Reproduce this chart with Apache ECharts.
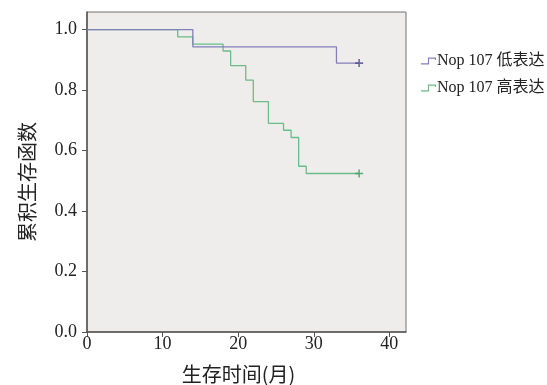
<!DOCTYPE html>
<html><head><meta charset="utf-8">
<script src="https://cdn.jsdelivr.net/npm/echarts@6/dist/echarts.min.js"></script>
<style>html,body{margin:0;padding:0;background:#fff}#c{width:547px;height:385px}</style>
</head><body><div id="c"></div>
<script>
// Data
const seriesNames = ['Nop 107 低表达', 'Nop 107 高表达'];
const lowTimes = [0, 14, 33, 36];
const lowSurv = [1.0, 0.943, 0.889, 0.889];
const highTimes = [0, 12, 14, 18, 19, 21, 22, 24, 26, 27, 28, 29, 36];
const highSurv = [1.0, 0.976, 0.952, 0.929, 0.881, 0.833, 0.762, 0.690, 0.667, 0.643, 0.548, 0.524, 0.524];
const lowCensor = [[36, 0.889]];
const highCensor = [[36, 0.524]];
const xTicks = [0, 10, 20, 30, 40];
const yTicks = [0, 0.2, 0.4, 0.6, 0.8, 1.0];
const xLabel = '生存时间(月)';
const yLabel = '累积生存函数';

const zip = (a, b) => a.map((v, i) => [v, b[i]]);
const serif = '"Liberation Serif","Times New Roman","Noto Sans CJK SC",serif';
const cjk = '"Noto Sans CJK SC",sans-serif';
const lowColor = '#8280b9', highColor = '#68bd88';
const plus = 'path://M4,0h2v4h4v2h-4v4h-2v-4h-4v-2h4z';
const stepIcon = 'path://M0,5H6V0H13V2.2H12V1H7V6H0Z';

const chart = echarts.init(document.getElementById('c'), null, {renderer: 'canvas'});
chart.setOption({
  animation: false,
  backgroundColor: '#fff',
  grid: {left: 87, right: 141, top: 12, bottom: 53, outerBoundsMode: 'none', containLabel: false,
         show: true, backgroundColor: '#efedec', borderColor: '#707070', borderWidth: 1},
  legend: {
    orient: 'vertical', left: 416, top: 48, itemGap: 11, itemWidth: 15, itemHeight: 7,
    data: [{name: seriesNames[0], icon: stepIcon, itemStyle: {color: lowColor}},
           {name: seriesNames[1], icon: stepIcon, itemStyle: {color: highColor}}],
    textStyle: {fontFamily: serif, fontSize: 16, color: '#222', padding: [0, 0, 0, -4]}
  },
  xAxis: {
    type: 'value', min: 0, max: 42.2,
    name: xLabel, nameLocation: 'middle', nameGap: 32,
    nameTextStyle: {fontFamily: cjk, fontSize: 20, color: '#222', padding: [0, 16, 0, 0]},
    axisLine: {show: true, lineStyle: {color: '#555', width: 1.5}},
    axisTick: {show: true, length: 5, customValues: xTicks, lineStyle: {color: '#555'}},
    axisLabel: {customValues: xTicks, fontFamily: serif, fontSize: 18, color: '#222', margin: 3},
    splitLine: {show: false}
  },
  yAxis: {
    type: 'value', min: 0, max: 1.058,
    name: yLabel, nameLocation: 'middle', nameGap: 50, nameRotate: 90,
    nameTextStyle: {fontFamily: cjk, fontSize: 20, color: '#222', padding: [0, 0, 0, -20]},
    axisLine: {show: true, lineStyle: {color: '#555', width: 1.5}},
    axisTick: {show: true, length: 5, customValues: yTicks, lineStyle: {color: '#555'}},
    axisLabel: {customValues: yTicks, fontFamily: serif, fontSize: 18, color: '#222', margin: 10,
                formatter: v => v.toFixed(1)},
    splitLine: {show: false}
  },
  series: [
    {name: seriesNames[1], type: 'line', step: 'end', data: zip(highTimes, highSurv), showSymbol: false,
     lineStyle: {color: highColor, width: 1.3}, itemStyle: {color: highColor}, z: 2},
    {name: seriesNames[0], type: 'line', step: 'end', data: zip(lowTimes, lowSurv), showSymbol: false,
     lineStyle: {color: lowColor, width: 1.3}, itemStyle: {color: lowColor}, z: 3},
    {type: 'scatter', data: lowCensor, symbol: plus, symbolSize: 8, itemStyle: {color: '#4a4888'}, z: 4},
    {type: 'scatter', data: highCensor, symbol: plus, symbolSize: 8, itemStyle: {color: '#3b9a5c'}, z: 4}
  ]
});
</script></body></html>
